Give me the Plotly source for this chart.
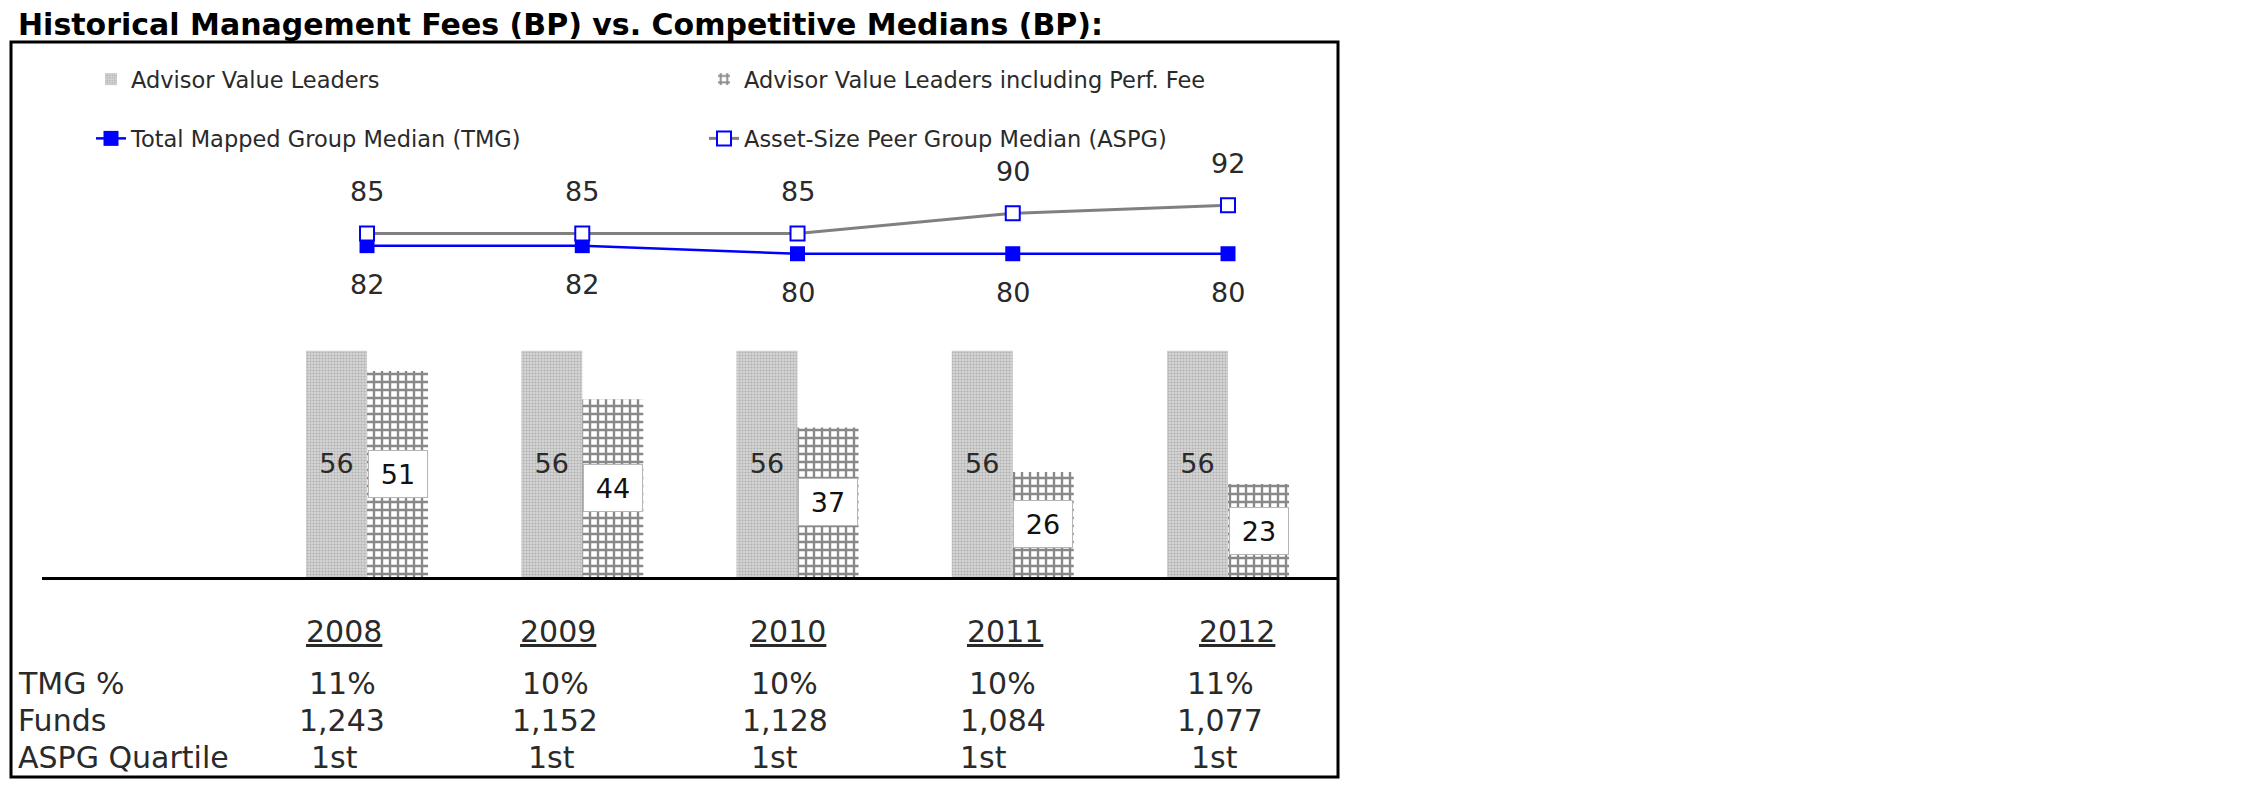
import plotly.graph_objects as go

# ---------------- data ----------------
years = ["2008", "2009", "2010", "2011", "2012"]
avl = [56, 56, 56, 56, 56]                       # Advisor Value Leaders
avl_perf = [51, 44, 37, 26, 23]                  # incl. Perf. Fee
tmg = [82, 82, 80, 80, 80]                       # Total Mapped Group Median
aspg = [85, 85, 85, 90, 92]                      # Asset-Size Peer Group Median
tmg_pct = ["11%", "10%", "10%", "10%", "11%"]
funds = ["1,243", "1,152", "1,128", "1,084", "1,077"]
aspg_quartile = ["1st", "1st", "1st", "1st", "1st"]
row_labels = ["TMG %", "Funds", "ASPG Quartile"]
title_text = "Historical Management Fees (BP) vs. Competitive Medians (BP):"

# ---------------- layout helpers (pixels) ----------------
OFF = 8                      # page body margin
W, H = 2234, 780
L, R, T, B = 3, 904, 34, 11
PW, PH = W - L - R, H - T - B
FONT = "DejaVu Sans"
TXT = "#2a2a2a"

def px_x(p):  # screen pixel -> paper x
    return (p - OFF - L) / PW

def px_y(p):  # screen pixel -> paper y
    return (H - B - (p - OFF)) / PH

year_shift = [-23, -24, -10, -8, 9]
val_shift = [-25, -27, -13, -10, -8]
q_shift = [-33, -31, -23, -29, -14]

fig = go.Figure()

fig.add_trace(go.Bar(
    x=years, y=avl, name="Advisor Value Leaders",
    marker=dict(color="#d6d6d6", line=dict(width=0),
                pattern=dict(shape=".", fgcolor="#8a8a8a", size=3, solidity=0.4, fillmode="overlay")),
    text=avl, textposition="inside", insidetextanchor="middle", textangle=0,
    textfont=dict(size=27, color=TXT, family=FONT),
    legend="legend", legendgroup="g1",
))
fig.add_trace(go.Bar(
    x=years, y=avl_perf, name="Advisor Value Leaders including Perf. Fee",
    marker=dict(color="white", line=dict(width=0),
                pattern=dict(shape="+", fgcolor="#111111", size=8, solidity=0.5, fillmode="overlay")),
    legend="legend2", legendgroup="g2",
))
fig.add_trace(go.Scatter(
    x=years, y=tmg, mode="lines+markers", name="Total Mapped Group Median (TMG)",
    line=dict(color="#0000ff", width=2.5),
    marker=dict(symbol="square", size=15, color="#0000ff"),
    legend="legend", legendgroup="g3",
))
fig.add_trace(go.Scatter(
    x=years, y=aspg, mode="lines+markers", name="Asset-Size Peer Group Median (ASPG)",
    line=dict(color="#808080", width=3),
    marker=dict(symbol="square", size=14, color="white", line=dict(color="#0000ff", width=2)),
    legend="legend2", legendgroup="g4",
))

ann = []
# bar-2 labels in white boxes
for i, v in enumerate(avl_perf):
    ann.append(dict(x=i, y=v / 2, xref="x", yref="y", text=str(v), showarrow=False,
                    xshift=30.5, bgcolor="white", bordercolor="#b5b5b5", borderwidth=1,
                    width=56, height=44, font=dict(size=27, color="#111111", family=FONT)))
# line labels
for i, v in enumerate(aspg):
    ann.append(dict(x=i, y=v, xref="x", yref="y", text=str(v), showarrow=False,
                    yshift=42, font=dict(size=27, color=TXT, family=FONT)))
for i, v in enumerate(tmg):
    ann.append(dict(x=i, y=v, xref="x", yref="y", text=str(v), showarrow=False,
                    yshift=-39, font=dict(size=27, color=TXT, family=FONT)))
# table
TF = dict(size=30, color=TXT, family=FONT)
for i, yr in enumerate(years):
    ann.append(dict(x=i, y=px_y(631), xref="x", yref="paper", text=yr, showarrow=False,
                    xshift=year_shift[i], yanchor="middle",
                    font=dict(size=30, color=TXT, family=FONT, lineposition="under")))
rows = [(tmg_pct, 683, val_shift), (funds, 720, val_shift), (aspg_quartile, 757, q_shift)]
for lab, (vals, ypx, shifts) in zip(row_labels, rows):
    ann.append(dict(x=px_x(16), y=px_y(ypx), xref="paper", yref="paper", text=lab,
                    showarrow=False, xanchor="left", yanchor="middle", font=TF))
    for i, v in enumerate(vals):
        ann.append(dict(x=i, y=px_y(ypx), xref="x", yref="paper", text=v, showarrow=False,
                        xshift=shifts[i], yanchor="middle", font=TF))

fig.update_layout(
    width=W, height=H,
    margin=dict(l=L, r=R, t=T, b=B),
    paper_bgcolor="white", plot_bgcolor="white",
    barmode="group", bargap=0.433, bargroupgap=0,
    showlegend=True,
    title=dict(text="<b>" + title_text + "</b>", xref="container", yref="container",
               x=(18 - OFF) / W, y=1 - (24 - OFF) / H, xanchor="left", yanchor="middle",
               font=dict(size=30, color="black", family=FONT)),
    legend=dict(x=px_x(91), y=px_y(58), xanchor="left", yanchor="top",
                orientation="v", tracegroupgap=27, itemwidth=30,
                font=dict(size=22.5, color=TXT, family=FONT), bgcolor="rgba(0,0,0,0)"),
    legend2=dict(x=px_x(704), y=px_y(58), xanchor="left", yanchor="top",
                 orientation="v", tracegroupgap=27, itemwidth=30,
                 font=dict(size=22.5, color=TXT, family=FONT), bgcolor="rgba(0,0,0,0)"),
    xaxis=dict(domain=[(42 - OFF - L) / PW, 1], range=[-1.51, 4.511], type="category",
               showticklabels=False, ticks="", showgrid=False, zeroline=False,
               showline=True, linecolor="black", linewidth=3),
    yaxis=dict(domain=[(H - B - (577 - OFF)) / PH, 1], range=[0, 132.4], visible=False),
    annotations=ann,
    shapes=[dict(type="rect", xref="paper", yref="paper", x0=0, x1=1, y0=0, y1=1,
                 line=dict(color="black", width=3), fillcolor="rgba(0,0,0,0)", layer="above")],
    uniformtext=dict(minsize=20, mode="show"),
)

fig.write_html("out.html")
